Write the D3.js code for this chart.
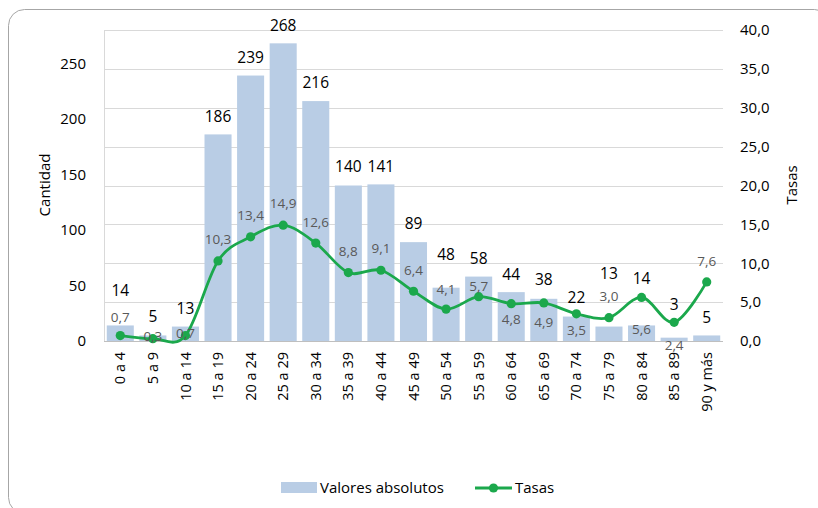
<!DOCTYPE html>
<html>
<head>
<meta charset="utf-8">
<script src="https://cdn.jsdelivr.net/npm/d3@7/dist/d3.min.js"></script>
<style>
  body { margin: 0; background: #fff; }
  svg { font-family: "Open Sans", "Noto Sans", sans-serif; }
</style>
</head>
<body>
<div id="container"></div>
<script>
// data
const categories = ["0 a 4", "5 a 9", "10 a 14", "15 a 19", "20 a 24", "25 a 29", "30 a 34",
  "35 a 39", "40 a 44", "45 a 49", "50 a 54", "55 a 59", "60 a 64", "65 a 69", "70 a 74",
  "75 a 79", "80 a 84", "85 a 89", "90 y más"];
const absolutos = [14, 5, 13, 186, 239, 268, 216, 140, 141, 89, 48, 58, 44, 38, 22, 13, 14, 3, 5];
const tasas = [0.7, 0.3, 0.7, 10.3, 13.4, 14.9, 12.6, 8.8, 9.1, 6.4, 4.1, 5.7, 4.8, 4.9, 3.5, 3.0, 5.6, 2.4, 7.6];
const leftTicks = [0, 50, 100, 150, 200, 250];
const rightTicks = [0, 5, 10, 15, 20, 25, 30, 35, 40];

// label nudges (px, relative to the mark), as placed by hand in the original
const barLabelDy = [-35, -19, -18, -18, -18, -18, -19, -19, -18, -19, -33, -18, -18, -19, -19, -53, -47, -33, -18];
const lineLabelDy = [-18, -2, -2, -22, -22, -22, -21, -21, -22, -21, -20, -10, 16, 19, 16, -21, 32, 23, -21];

const width = 818, height = 508;
const plot = { left: 104, right: 723, top: 30, bottom: 341 };
const barColor = "#B9CDE5";
const green = "#1BA84C";

const svg = d3.select("#container").append("svg")
  .attr("width", width)
  .attr("height", height);

// outer frame (bottom and right edge run past the picture)
svg.append("rect")
  .attr("x", 8.5).attr("y", 9.5)
  .attr("width", 822).attr("height", 504)
  .attr("rx", 16)
  .attr("fill", "none")
  .attr("stroke", "#A6A6A6");

const x = d3.scaleBand()
  .domain(categories)
  .range([plot.left, plot.right])
  .paddingInner(0.17)
  .paddingOuter(0.085);

const yLeft = d3.scaleLinear().domain([0, 280]).range([plot.bottom, plot.top]);
const yRight = d3.scaleLinear().domain([0, 40]).range([plot.bottom, plot.top]);

const fmt = d => d3.format(".1f")(d).replace(".", ",");

// gridlines follow the right axis
svg.append("g")
  .selectAll("line")
  .data(rightTicks.slice(1))
  .join("line")
  .attr("x1", plot.left).attr("x2", plot.right)
  .attr("y1", d => Math.round(yRight(d)) + 0.5)
  .attr("y2", d => Math.round(yRight(d)) + 0.5)
  .attr("stroke", "#D9D9D9");

svg.append("line")
  .attr("x1", plot.left + 0.5).attr("x2", plot.left + 0.5)
  .attr("y1", plot.top).attr("y2", plot.bottom)
  .attr("stroke", "#D9D9D9");

// bars
svg.append("g")
  .selectAll("rect")
  .data(absolutos)
  .join("rect")
  .attr("x", (d, i) => x(categories[i]))
  .attr("y", d => yLeft(d))
  .attr("width", x.bandwidth())
  .attr("height", d => plot.bottom - yLeft(d))
  .attr("fill", barColor);

// baseline
svg.append("line")
  .attr("x1", plot.left).attr("x2", plot.right)
  .attr("y1", plot.bottom + 0.5).attr("y2", plot.bottom + 0.5)
  .attr("stroke", "#BFBFBF");

// left axis
const leftAxis = svg.append("g")
  .attr("transform", `translate(${plot.left},0)`)
  .call(d3.axisLeft(yLeft).tickValues(leftTicks).tickSize(0).tickPadding(18));
leftAxis.select(".domain").remove();
leftAxis.selectAll("text").attr("font-size", 15).attr("fill", "#000")
  .attr("font-family", "Open Sans, sans-serif");

// right axis
const rightAxis = svg.append("g")
  .attr("transform", `translate(${plot.right},0)`)
  .call(d3.axisRight(yRight).tickValues(rightTicks).tickFormat(fmt).tickSize(0).tickPadding(17));
rightAxis.select(".domain").remove();
rightAxis.selectAll("text").attr("font-size", 15).attr("fill", "#000")
  .attr("font-family", "Open Sans, sans-serif");

// category labels
const xAxis = svg.append("g")
  .attr("transform", `translate(0,${plot.bottom})`)
  .call(d3.axisBottom(x).tickSize(0).tickPadding(0));
xAxis.select(".domain").remove();
xAxis.selectAll("text")
  .attr("font-size", 14.5)
  .attr("fill", "#000")
  .attr("font-family", "Open Sans, sans-serif")
  .attr("transform", "rotate(-90)")
  .attr("text-anchor", "end")
  .attr("x", -11)
  .attr("y", 0)
  .attr("dy", "0.35em");

// axis titles
svg.append("text")
  .attr("transform", "translate(45,185) rotate(-90)")
  .attr("text-anchor", "middle")
  .attr("dy", "0.35em")
  .attr("font-size", 15)
  .text("Cantidad");

svg.append("text")
  .attr("transform", "translate(792,185) rotate(-90)")
  .attr("text-anchor", "middle")
  .attr("dy", "0.35em")
  .attr("font-size", 15)
  .text("Tasas");

// rate line
const cx = i => x(categories[i]) + x.bandwidth() / 2;
const line = d3.line()
  .x((d, i) => cx(i))
  .y(d => yRight(d))
  .curve(d3.curveCardinal.tension(0));

svg.append("path")
  .datum(tasas)
  .attr("d", line)
  .attr("fill", "none")
  .attr("stroke", green)
  .attr("stroke-width", 2.8);

svg.append("g")
  .selectAll("circle")
  .data(tasas)
  .join("circle")
  .attr("cx", (d, i) => cx(i))
  .attr("cy", d => yRight(d))
  .attr("r", 4.6)
  .attr("fill", green);

// bar value labels
svg.append("g")
  .selectAll("text")
  .data(absolutos)
  .join("text")
  .attr("x", (d, i) => cx(i))
  .attr("y", (d, i) => yLeft(d) + barLabelDy[i])
  .attr("dy", "0.35em")
  .attr("text-anchor", "middle")
  .attr("font-size", 15.5)
  .attr("fill", "#000")
  .text(d => d);

// rate labels
svg.append("g")
  .selectAll("text")
  .data(tasas)
  .join("text")
  .attr("x", (d, i) => cx(i))
  .attr("y", (d, i) => yRight(d) + lineLabelDy[i])
  .attr("dy", "0.35em")
  .attr("text-anchor", "middle")
  .attr("font-size", 13.5)
  .attr("fill", "#595959")
  .text(d => fmt(d));

// legend
const legend = svg.append("g").attr("transform", "translate(0,488)");
legend.append("rect")
  .attr("x", 281).attr("y", -6)
  .attr("width", 36).attr("height", 11)
  .attr("fill", barColor);
legend.append("text")
  .attr("x", 320).attr("y", 0).attr("dy", "0.35em")
  .attr("font-size", 15)
  .text("Valores absolutos");
legend.append("line")
  .attr("x1", 475).attr("x2", 512)
  .attr("y1", 0).attr("y2", 0)
  .attr("stroke", green).attr("stroke-width", 2.8);
legend.append("circle")
  .attr("cx", 493.5).attr("cy", 0).attr("r", 4.6)
  .attr("fill", green);
legend.append("text")
  .attr("x", 515).attr("y", 0).attr("dy", "0.35em")
  .attr("font-size", 15)
  .text("Tasas");
</script>
</body>
</html>
